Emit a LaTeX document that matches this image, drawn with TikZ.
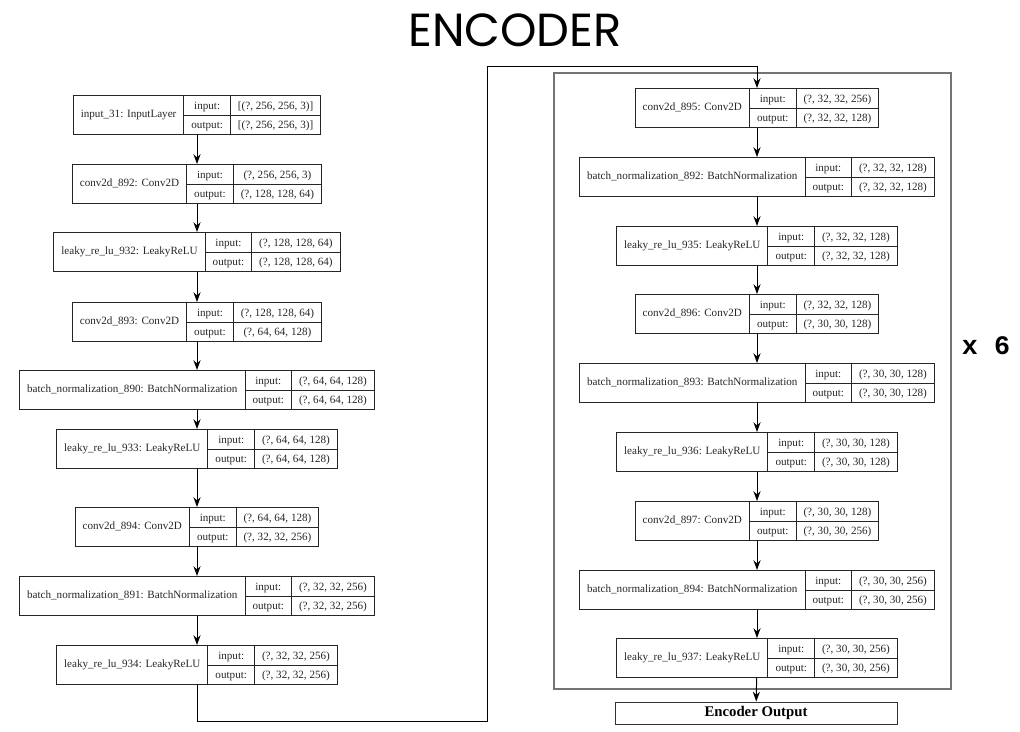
\documentclass[tikz,border=0pt]{standalone}
\usepackage{fontspec}
\usepackage{array}
\setmainfont{Liberation Serif}
\newfontfamily\titlefont{Poppins}
\newfontfamily\repfont{Liberation Mono}
\usetikzlibrary{arrows.meta}

\setlength{\tabcolsep}{5pt}
\setlength{\arrayrulewidth}{0.7pt}
\renewcommand{\arraystretch}{1.36}
% one keras layer: name | input/output | shapes
\newcommand{\layer}[3]{%
  \begin{tabular}{|c|@{}c@{}|}\hline
  #1 & \begin{tabular}{c|c} input: & #2\\\hline output: & #3\end{tabular}\\\hline
  \end{tabular}}

\tikzset{
  lay/.style={inner sep=0pt, text=black!85, font=\fontsize{7.9}{9.5}\selectfont},
  flow/.style={-{Stealth[length=7pt,width=5pt]}, line width=0.7pt},
  repframe/.style={draw=black!55, line width=1.5pt}
}

\begin{document}
\begin{tikzpicture}[x=0.025cm,y=-0.025cm]
\useasboundingbox (0,0) rectangle (1020,731);

\node[font=\titlefont\fontsize{33}{36}\selectfont] (title) at (515,30) {ENCODER};

% left column
\node[lay] (in31) at (197,115) {\layer{input\_31: InputLayer}{[(?, 256, 256, 3)]}{[(?, 256, 256, 3)]}};
\node[lay] (c892) at (197,184) {\layer{conv2d\_892: Conv2D}{(?, 256, 256, 3)}{(?, 128, 128, 64)}};
\node[lay] (lr932) at (197,252) {\layer{leaky\_re\_lu\_932: LeakyReLU}{(?, 128, 128, 64)}{(?, 128, 128, 64)}};
\node[lay] (c893) at (197,322) {\layer{conv2d\_893: Conv2D}{(?, 128, 128, 64)}{(?, 64, 64, 128)}};
\node[lay] (bn890) at (197,390) {\layer{batch\_normalization\_890: BatchNormalization}{(?, 64, 64, 128)}{(?, 64, 64, 128)}};
\node[lay] (lr933) at (197,449) {\layer{leaky\_re\_lu\_933: LeakyReLU}{(?, 64, 64, 128)}{(?, 64, 64, 128)}};
\node[lay] (c894) at (197,527) {\layer{conv2d\_894: Conv2D}{(?, 64, 64, 128)}{(?, 32, 32, 256)}};
\node[lay] (bn891) at (197,596) {\layer{batch\_normalization\_891: BatchNormalization}{(?, 32, 32, 256)}{(?, 32, 32, 256)}};
\node[lay] (lr934) at (197,665) {\layer{leaky\_re\_lu\_934: LeakyReLU}{(?, 32, 32, 256)}{(?, 32, 32, 256)}};

% repeated block
\draw[repframe] (554,73) rectangle (951,689);
\node[font=\repfont\bfseries\fontsize{19}{22}\selectfont] (times) at (986,346) {x 6};

\node[lay] (c895) at (757,108) {\layer{conv2d\_895: Conv2D}{(?, 32, 32, 256)}{(?, 32, 32, 128)}};
\node[lay] (bn892) at (757,177) {\layer{batch\_normalization\_892: BatchNormalization}{(?, 32, 32, 128)}{(?, 32, 32, 128)}};
\node[lay] (lr935) at (757,246) {\layer{leaky\_re\_lu\_935: LeakyReLU}{(?, 32, 32, 128)}{(?, 32, 32, 128)}};
\node[lay] (c896) at (757,314) {\layer{conv2d\_896: Conv2D}{(?, 32, 32, 128)}{(?, 30, 30, 128)}};
\node[lay] (bn893) at (757,383) {\layer{batch\_normalization\_893: BatchNormalization}{(?, 30, 30, 128)}{(?, 30, 30, 128)}};
\node[lay] (lr936) at (757,452) {\layer{leaky\_re\_lu\_936: LeakyReLU}{(?, 30, 30, 128)}{(?, 30, 30, 128)}};
\node[lay] (c897) at (757,521) {\layer{conv2d\_897: Conv2D}{(?, 30, 30, 128)}{(?, 30, 30, 256)}};
\node[lay] (bn894) at (757,590) {\layer{batch\_normalization\_894: BatchNormalization}{(?, 30, 30, 256)}{(?, 30, 30, 256)}};
\node[lay] (lr937) at (757,658) {\layer{leaky\_re\_lu\_937: LeakyReLU}{(?, 30, 30, 256)}{(?, 30, 30, 256)}};

\node[draw=black!80, line width=0.6pt, minimum width=7.05cm, minimum height=0.55cm, inner sep=0pt,
  font=\bfseries\fontsize{10.5}{12}\selectfont] (encout) at (756,713) {Encoder Output};

% arrows
\draw[flow] (in31) -- (c892);
\draw[flow] (c892) -- (lr932);
\draw[flow] (lr932) -- (c893);
\draw[flow] (c893) -- (bn890);
\draw[flow] (bn890) -- (lr933);
\draw[flow] (lr933) -- (c894);
\draw[flow] (c894) -- (bn891);
\draw[flow] (bn891) -- (lr934);

\coordinate (loopdown) at (487,721);
\coordinate (loopup) at (487,66);
\draw[flow] (lr934.south) |- (loopdown) -- (loopup) -| (c895.north);

\draw[flow] (c895) -- (bn892);
\draw[flow] (bn892) -- (lr935);
\draw[flow] (lr935) -- (c896);
\draw[flow] (c896) -- (bn893);
\draw[flow] (bn893) -- (lr936);
\draw[flow] (lr936) -- (c897);
\draw[flow] (c897) -- (bn894);
\draw[flow] (bn894) -- (lr937);
\draw[flow] (lr937) -- (encout);
\end{tikzpicture}
\end{document}
